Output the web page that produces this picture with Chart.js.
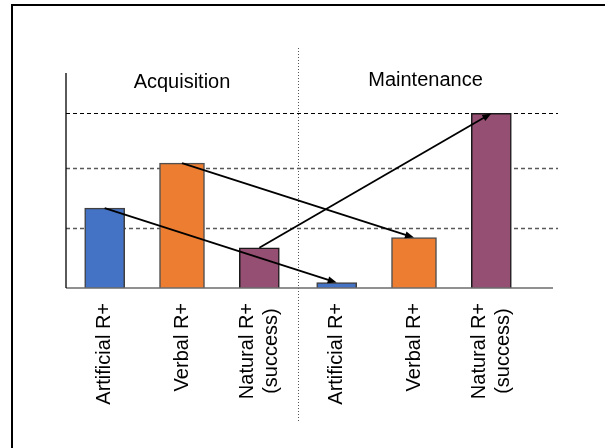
<!DOCTYPE html>
<html>
<head>
<meta charset="utf-8">
<script src="https://cdn.jsdelivr.net/npm/chart.js@4.4.1/dist/chart.umd.min.js"></script>
<style>
  html, body { margin: 0; padding: 0; background: #fff; }
  #wrap { position: relative; width: 605px; height: 448px; overflow: hidden; }
  #frame { position: absolute; left: 11px; top: 4px; right: -4px; bottom: -4px;
           border-top: 2px solid #000; border-left: 2px solid #000; pointer-events: none; }
</style>
</head>
<body>
<div id="wrap">
  <canvas id="chart" width="605" height="448"></canvas>
  <div id="frame"></div>
</div>
<script>
// Bar labels (two-line labels are arrays)
const categories = [
  ['Artificial R+'], ['Verbal R+'], ['Natural R+', '(success)'],
  ['Artificial R+'], ['Verbal R+'], ['Natural R+', '(success)']
];
// Bar heights (gridlines at 1, 2, ~2.9)
const values = [1.33, 2.08, 0.67, 0.09, 0.84, 2.91];
const phases = ['Acquisition', 'Maintenance'];
const gridValues = [1, 2, 2.91];
// Arrows: acquisition bar -> matching maintenance bar
const arrowPairs = [[0, 3], [1, 4], [2, 5]];

const types = ['Artificial', 'Verbal', 'Natural'];
const typeColors = ['#4472C4', '#ED7D31', '#954F72'];
const typeBorders = ['#404040', '#505050', '#1a1a1a'];
const typeWidths = [40, 45, 40];
const gridColors = ['#595959', '#595959', '#000000'];
const gridWidths = [1.6, 1.6, 1.1];
const FONT = '20px "Liberation Sans", Arial, sans-serif';

const datasets = types.map((t, k) => ({
  label: t,
  data: values.map((v, i) => (i % 3 === k ? v : null)),
  backgroundColor: typeColors[k],
  borderColor: typeBorders[k],
  borderWidth: 1.5,
  borderSkipped: 'bottom',
  barThickness: typeWidths[k],
  grouped: false
}));

function barAt(chart, i) {
  return chart.getDatasetMeta(i % 3).data[i];
}

const overlay = {
  id: 'overlay',
  beforeDatasetsDraw(chart) {
    const { ctx, chartArea: a, scales: { x, y } } = chart;
    ctx.save();
    // dashed horizontal guides
    ctx.setLineDash([4, 3]);
    gridValues.forEach((v, i) => {
      const py = Math.round(y.getPixelForValue(v)) + 0.5;
      ctx.strokeStyle = gridColors[i];
      ctx.lineWidth = gridWidths[i];
      ctx.beginPath();
      ctx.moveTo(a.left, py);
      ctx.lineTo(a.right + 28, py);
      ctx.stroke();
    });
    // dotted divider between the two phases
    const mid = Math.round((x.getPixelForTick(2) + x.getPixelForTick(3)) / 2) + 0.5;
    ctx.setLineDash([1, 2]);
    ctx.strokeStyle = '#555';
    ctx.lineWidth = 1;
    ctx.beginPath();
    ctx.moveTo(mid, 48);
    ctx.lineTo(mid, 422);
    ctx.stroke();
    ctx.restore();
  },
  afterDatasetsDraw(chart) {
    const { ctx, chartArea: a, scales: { x, y } } = chart;
    const base = y.getPixelForValue(0);
    ctx.save();

    // baseline and y axis
    ctx.setLineDash([]);
    ctx.strokeStyle = '#6b6b6b';
    ctx.lineWidth = 1.5;
    ctx.beginPath();
    ctx.moveTo(a.left, base);
    ctx.lineTo(a.right + 23, base);
    ctx.stroke();
    ctx.strokeStyle = '#000';
    ctx.lineWidth = 1.3;
    ctx.beginPath();
    ctx.moveTo(a.left, a.top + 1);
    ctx.lineTo(a.left, base);
    ctx.stroke();

    // arrows
    ctx.strokeStyle = '#000';
    ctx.fillStyle = '#000';
    ctx.lineWidth = 1.8;
    arrowPairs.forEach(([from, to]) => {
      const p = barAt(chart, from), q = barAt(chart, to);
      const ang = Math.atan2(q.y - p.y, q.x - p.x);
      const head = 9, half = 3.5;
      const ex = q.x - Math.cos(ang) * head * 0.8;
      const ey = q.y - Math.sin(ang) * head * 0.8;
      ctx.beginPath();
      ctx.moveTo(p.x, p.y);
      ctx.lineTo(ex, ey);
      ctx.stroke();
      ctx.beginPath();
      ctx.moveTo(q.x, q.y);
      ctx.lineTo(q.x - Math.cos(ang) * head - Math.sin(ang) * half,
                 q.y - Math.sin(ang) * head + Math.cos(ang) * half);
      ctx.lineTo(q.x - Math.cos(ang) * head + Math.sin(ang) * half,
                 q.y - Math.sin(ang) * head - Math.cos(ang) * half);
      ctx.closePath();
      ctx.fill();
    });

    // phase titles
    const mid = (x.getPixelForTick(2) + x.getPixelForTick(3)) / 2;
    ctx.font = FONT;
    ctx.fillStyle = '#000';
    ctx.textAlign = 'center';
    ctx.textBaseline = 'alphabetic';
    ctx.fillText(phases[0], (a.left + mid) / 2, 88);
    ctx.fillText(phases[1], (mid + a.right + 23) / 2, 86);

    // rotated category labels
    ctx.textBaseline = 'middle';
    categories.forEach((lines, i) => {
      const w = Math.max(...lines.map(s => ctx.measureText(s).width));
      ctx.save();
      ctx.translate(x.getPixelForTick(i), base + 15);
      ctx.rotate(-Math.PI / 2);
      lines.forEach((s, j) => {
        ctx.fillText(s, -w / 2, (j - (lines.length - 1) / 2) * 24.5);
      });
      ctx.restore();
    });
    ctx.restore();
  }
};

new Chart(document.getElementById('chart').getContext('2d'), {
  type: 'bar',
  data: { labels: categories, datasets },
  options: {
    responsive: false,
    animation: false,
    layout: { padding: { left: 66, right: 75, top: 72, bottom: 160 } },
    scales: {
      x: { display: false, offset: true },
      y: { display: false, min: 0, max: 3.6 }
    },
    plugins: { legend: { display: false }, tooltip: { enabled: false } }
  },
  plugins: [overlay]
});
</script>
</body>
</html>
